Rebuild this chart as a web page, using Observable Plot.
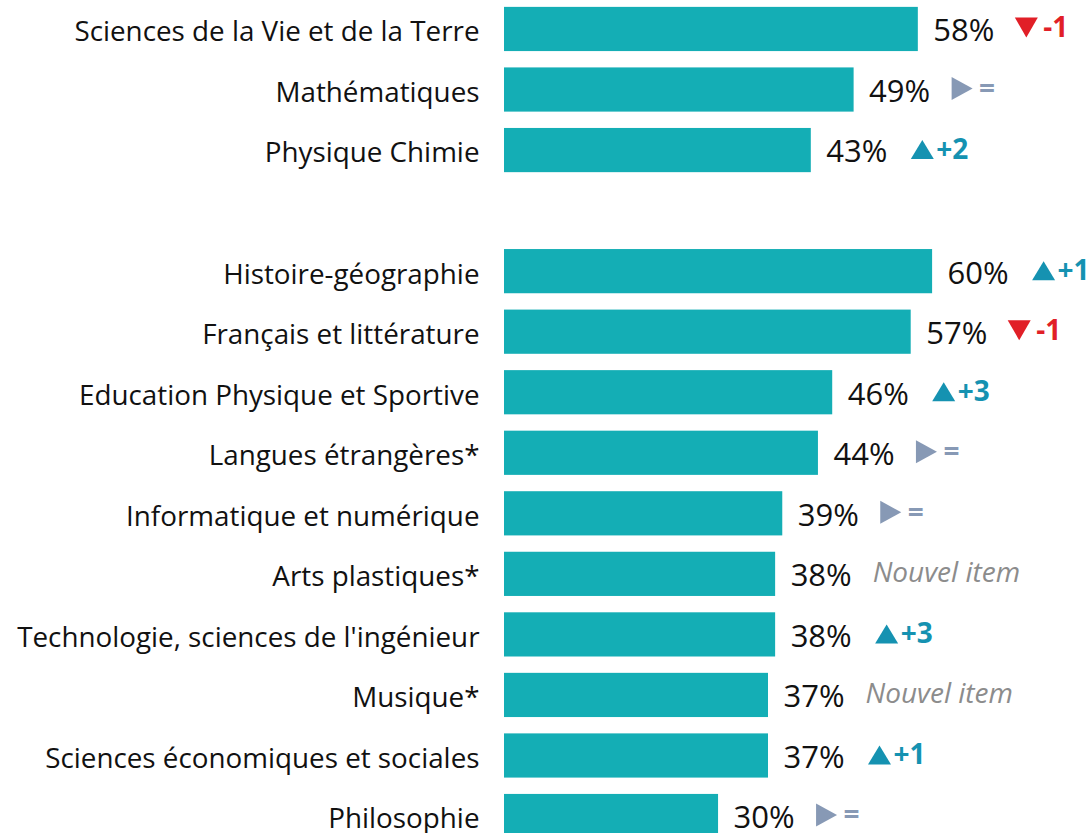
<!DOCTYPE html>
<html>
<head>
<meta charset="utf-8">
<script src="https://cdn.jsdelivr.net/npm/d3@7"></script>
<script src="https://cdn.jsdelivr.net/npm/@observablehq/plot@0.6"></script>
<style>
  html, body { margin: 0; padding: 0; background: #fff; }
  #chart svg { display: block; }
</style>
</head>
<body>
<div id="chart"></div>
<script>
const subjects = [
  "Sciences de la Vie et de la Terre",
  "Mathématiques",
  "Physique Chimie",
  "Histoire-géographie",
  "Français et littérature",
  "Education Physique et Sportive",
  "Langues étrangères*",
  "Informatique et numérique",
  "Arts plastiques*",
  "Technologie, sciences de l'ingénieur",
  "Musique*",
  "Sciences économiques et sociales",
  "Philosophie"
];
const values = [58, 49, 43, 60, 57, 46, 44, 39, 38, 38, 37, 37, 30];
// change vs previous wave; null = new item
const changes = [-1, 0, 2, 1, -1, 3, 0, 0, null, 3, null, 1, 0];
const groupBreakAfter = 3; // blank row after the first three subjects
const newItemLabel = "Nouvel item";

const data = subjects.map((s, i) => ({subject: s, value: values[i], change: changes[i]}));
const spacer = "";
const yDomain = [...subjects.slice(0, groupBreakAfter), spacer, ...subjects.slice(groupBreakAfter)];

const colUp = "#1592b1", colDown = "#e11f27", colEq = "#8799b5";
const gcolor = c => c > 0 ? colUp : c < 0 ? colDown : colEq;
const ctext = c => c > 0 ? "+" + c : c < 0 ? "-" + Math.abs(c) : "=";

// custom triangle symbols
const triUp = {draw(ctx) { ctx.moveTo(0, -9.5); ctx.lineTo(11.5, 9.5); ctx.lineTo(-11.5, 9.5); ctx.closePath(); }};
const triDown = {draw(ctx) { ctx.moveTo(0, 10); ctx.lineTo(11.5, -10); ctx.lineTo(-11.5, -10); ctx.closePath(); }};
const triRight = {draw(ctx) { ctx.moveTo(10.5, 0); ctx.lineTo(-10.5, 11.5); ctx.lineTo(-10.5, -11.5); ctx.closePath(); }};

const ups = data.filter(d => d.change > 0);
const downs = data.filter(d => d.change < 0);
const flats = data.filter(d => d.change === 0);
const withChange = data.filter(d => d.change != null);
const newItems = data.filter(d => d.change == null);
const font = "'Open Sans', 'Noto Sans', sans-serif";

const chart = Plot.plot({
  width: 1092,
  height: 833,
  marginLeft: 504,
  marginRight: 0,
  marginTop: 0,
  marginBottom: 0,
  style: {fontFamily: font, background: "#fff"},
  x: {domain: [0, 100], range: [504, 504 + 713.5], axis: null},
  y: {domain: yDomain, range: [-1.3, 846.3], paddingInner: 0.27, paddingOuter: 0.135, round: false, axis: null},
  marks: [
    Plot.barX(data, {x: "value", y: "subject", fill: "#14aeb5"}),
    Plot.axisY({tickSize: 0, tickPadding: 25, dy: 3, fontSize: 27.8, fill: "#111", tickFormat: d => d, anchor: "left", label: null}),
    Plot.text(data, {x: "value", y: "subject", text: d => d.value + "%", dx: 15, dy: 2, textAnchor: "start", fontSize: 31, fill: "#111"}),
    Plot.dot(ups, {x: "value", y: "subject", dx: 111, dy: -1, symbol: triUp, fill: colUp, stroke: null}),
    Plot.dot(downs, {x: "value", y: "subject", dx: 108, dy: -2, symbol: triDown, fill: colDown, stroke: null}),
    Plot.dot(flats, {x: "value", y: "subject", dx: 108, dy: -1.5, symbol: triRight, fill: colEq, stroke: null}),
    Plot.text(withChange, {x: "value", y: "subject", text: d => ctext(d.change), dx: 125, dy: -1, textAnchor: "start", fontSize: 28, fontWeight: "bold", fill: d => gcolor(d.change)}),
    Plot.text(newItems, {x: "value", y: "subject", text: () => newItemLabel, dx: 97, dy: -1, textAnchor: "start", fontSize: 28, fontStyle: "italic", fill: "#8c8c8c"})
  ]
});
document.getElementById("chart").appendChild(chart);
</script>
</body>
</html>
